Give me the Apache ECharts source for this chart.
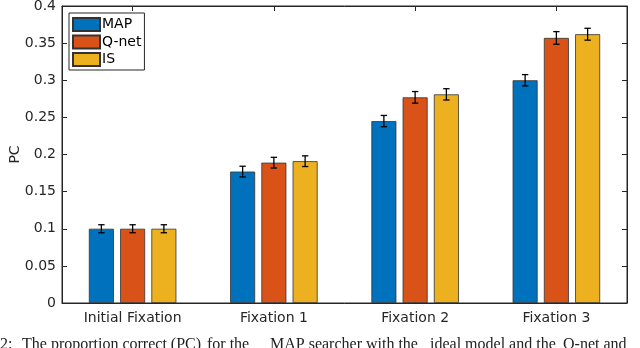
<!DOCTYPE html>
<html>
<head>
<meta charset="utf-8">
<script src="https://cdn.jsdelivr.net/npm/echarts@6/dist/echarts.min.js"></script>
<style>
html,body{margin:0;padding:0;background:#fff;}
#c{width:640px;height:348px;}
</style>
</head>
<body>
<div id="c"></div>
<script>
// ---- data ----
var categories = ['Initial Fixation', 'Fixation 1', 'Fixation 2', 'Fixation 3'];
var seriesNames = ['MAP', 'Q-net', 'IS'];
var valMAP  = [0.100, 0.177, 0.245, 0.300];
var valQnet = [0.100, 0.189, 0.277, 0.357];
var valIS   = [0.100, 0.191, 0.281, 0.362];
var errMAP  = [0.0054, 0.0072, 0.0076, 0.0076];
var errQnet = [0.0054, 0.0072, 0.0078, 0.0085];
var errIS   = [0.0054, 0.0072, 0.0076, 0.0080];
var yLabel = 'PC';
var captionParts = ['2:', 'The proportion correct (PC)', 'for the', 'MAP searcher with the', 'ideal model and the', 'Q-net and'];
var captionLeft  = [0, 22, 207, 270, 430, 563];

// ---- style ----
var colors = ['#0072BD', '#D95319', '#EDB120'];
var FONT = '"DejaVu Sans", Verdana, sans-serif';
var AX = '#262626';
var BAR_W = 25, GAP = 6.25;

var values = [valMAP, valQnet, valIS];
var errs = [errMAP, errQnet, errIS];

var chart = echarts.init(document.getElementById('c'), null, {renderer: 'canvas'});

var series = [];
seriesNames.forEach(function (name, s) {
  series.push({
    name: name,
    type: 'bar',
    data: values[s],
    barWidth: BAR_W,
    barGap: (GAP / BAR_W * 100) + '%',
    itemStyle: {color: colors[s], borderColor: '#333', borderWidth: 0.8},
    emphasis: {disabled: true},
    z: 2
  });
});
seriesNames.forEach(function (name, s) {
  var offset = (s - 1) * (BAR_W + GAP);
  series.push({
    name: name + ' err',
    type: 'custom',
    data: values[s].map(function (v, i) { return [i, v, errs[s][i]]; }),
    encode: {x: 0, y: 1},
    z: 5,
    silent: true,
    renderItem: function (params, api) {
      var i = api.value(0), v = api.value(1), e = api.value(2);
      var top = api.coord([i, v + e]);
      var bot = api.coord([i, v - e]);
      var x = top[0] + offset;
      var cw = 3.2;
      var st = {stroke: '#000', lineWidth: 1.3};
      return {
        type: 'group',
        children: [
          {type: 'line', shape: {x1: x, y1: top[1], x2: x, y2: bot[1]}, style: st},
          {type: 'line', shape: {x1: x - cw, y1: top[1], x2: x + cw, y2: top[1]}, style: st},
          {type: 'line', shape: {x1: x - cw, y1: bot[1], x2: x + cw, y2: bot[1]}, style: st}
        ]
      };
    }
  });
});
// empty series so that the mirrored top/right axes are drawn
series.push({type: 'bar', name: '_box', data: [], xAxisIndex: 1, yAxisIndex: 1, silent: true});

var axisLine = {show: true, onZero: false, lineStyle: {color: AX, width: 1}};
var option = {
  animation: false,
  backgroundColor: '#fff',
  textStyle: {fontFamily: FONT},
  grid: {left: 62, right: 13, top: 6, bottom: 45, containLabel: false, outerBoundsMode: 'none',
    show: true, borderColor: AX, borderWidth: 1, backgroundColor: 'transparent'},
  legend: {
    data: seriesNames,
    orient: 'vertical',
    left: 69, top: 13,
    backgroundColor: '#fff',
    borderColor: AX, borderWidth: 1, borderRadius: 0,
    padding: [4, 3, 3, 3],
    itemWidth: 27, itemHeight: 13, itemGap: 2.5,
    icon: 'rect',
    textStyle: {fontFamily: FONT, fontSize: 14, lineHeight: 13, color: '#000', padding: [0, 0, 0, -3]},
    selectedMode: false
  },
  xAxis: [
    {
      type: 'category', data: categories, position: 'bottom',
      axisLine: axisLine,
      axisTick: {show: true, inside: true, alignWithLabel: true, length: 5, lineStyle: {color: AX}},
      axisLabel: {fontFamily: FONT, fontSize: 14, color: '#262626', margin: 8},
      splitLine: {show: false}
    },
    {
      type: 'category', data: categories, position: 'top',
      axisLine: axisLine,
      axisTick: {show: true, inside: true, alignWithLabel: true, length: 5, lineStyle: {color: AX}},
      axisLabel: {show: false},
      splitLine: {show: false}
    }
  ],
  yAxis: [
    {
      type: 'value', min: 0, max: 0.4, interval: 0.05, position: 'left',
      name: yLabel, nameLocation: 'middle', nameGap: 40, nameRotate: 90, nameMoveOverlap: false,
      nameTextStyle: {fontFamily: FONT, fontSize: 14, color: '#262626'},
      axisLine: axisLine,
      axisTick: {show: true, inside: true, length: 5, lineStyle: {color: AX}},
      axisLabel: {fontFamily: FONT, fontSize: 14, color: '#262626', margin: 6,
        formatter: function (v) { return String(Math.round(v * 100) / 100); }},
      splitLine: {show: false}
    },
    {
      type: 'value', min: 0, max: 0.4, interval: 0.05, position: 'right',
      axisLine: axisLine,
      axisTick: {show: true, inside: true, length: 5, lineStyle: {color: AX}},
      axisLabel: {show: false},
      splitLine: {show: false}
    }
  ],
  series: series,
  graphic: captionParts.map(function (t, k) {
    return {
      type: 'text', left: captionLeft[k], top: 337, silent: true,
      style: {text: t, font: '16px "Liberation Serif", "DejaVu Serif", serif', fill: '#222'}
    };
  })
};
chart.setOption(option);
</script>
</body>
</html>
